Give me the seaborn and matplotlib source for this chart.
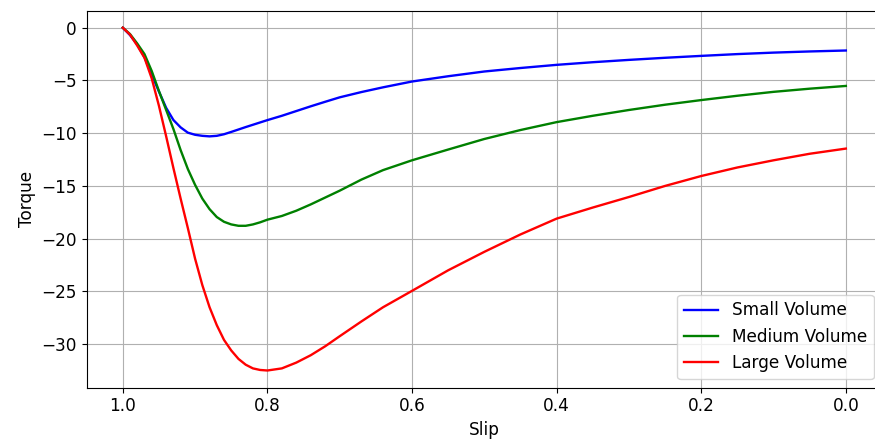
import matplotlib
matplotlib.use("Agg")
import matplotlib.pyplot as plt
import seaborn as sns

# ------------------------------------------
# Data
# ------------------------------------------

slip = [1.00, 0.99, 0.98, 0.97, 0.96, 0.95, 0.94, 0.93, 0.92, 0.91,
        0.90, 0.89, 0.88, 0.87, 0.86, 0.85, 0.84, 0.83, 0.82, 0.81,
        0.80, 0.78, 0.76, 0.74, 0.72, 0.70, 0.67, 0.64, 0.60, 0.55,
        0.50, 0.45, 0.40, 0.35, 0.30, 0.25, 0.20, 0.15, 0.10, 0.05, 0.00]

torque_small = [0.0, -0.7, -1.6, -2.8, -4.45, -6.05, -7.6, -8.75, -9.45, -9.95,
                -10.15, -10.25, -10.3, -10.25, -10.1, -9.88, -9.65, -9.42, -9.2, -8.98,
                -8.76, -8.35, -7.9, -7.45, -7.02, -6.6, -6.1, -5.65, -5.1, -4.6,
                -4.15, -3.82, -3.52, -3.27, -3.05, -2.85, -2.67, -2.5, -2.36, -2.25, -2.16]

torque_medium = [0.0, -0.6, -1.5, -2.5, -4.1, -6.0, -7.8, -9.6, -11.6, -13.4,
                 -14.9, -16.2, -17.2, -17.95, -18.4, -18.65, -18.78, -18.78, -18.65, -18.45,
                 -18.2, -17.85, -17.35, -16.75, -16.1, -15.45, -14.4, -13.5, -12.57, -11.55,
                 -10.55, -9.7, -8.95, -8.35, -7.8, -7.3, -6.86, -6.45, -6.08, -5.78, -5.52]

torque_large = [0.0, -0.65, -1.7, -2.85, -4.8, -7.4, -10.3, -13.3, -16.2, -19.0,
                -21.9, -24.4, -26.5, -28.2, -29.6, -30.6, -31.4, -31.95, -32.3, -32.45,
                -32.5, -32.3, -31.75, -31.05, -30.2, -29.25, -27.85, -26.5, -24.95, -23.0,
                -21.25, -19.6, -18.1, -17.05, -16.05, -15.0, -14.06, -13.25, -12.57, -11.95, -11.46]

labels = ["Small Volume", "Medium Volume", "Large Volume"]
colors = ["blue", "green", "red"]

# ------------------------------------------
# Plot
# ------------------------------------------

plt.rcParams["font.size"] = 12.2

fig = plt.figure(figsize=(8.75, 4.41), dpi=100)
# the reference is cut off on the right, so the axes run past the figure edge
ax = fig.add_axes([0.099, 0.121, 0.909, 0.855])

for torque, label, color in zip([torque_small, torque_medium, torque_large], labels, colors):
    sns.lineplot(x=slip, y=torque, color=color, label=label, ax=ax, linewidth=1.7)

ax.invert_xaxis()
ax.set_xlabel("Slip")
ax.set_ylabel("Torque")
ax.grid(True)
ax.legend(loc="lower right")

plt.savefig("out.png")
